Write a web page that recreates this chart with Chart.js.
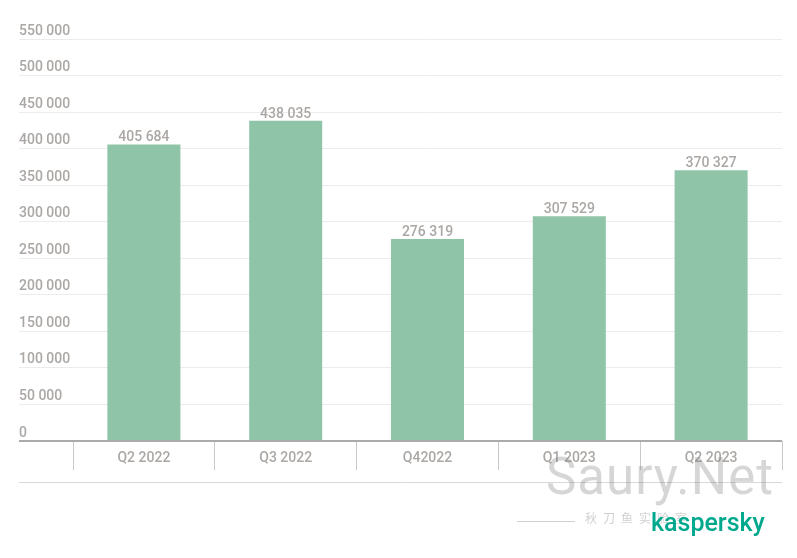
<!DOCTYPE html>
<html><head><meta charset="utf-8">
<script src="https://cdn.jsdelivr.net/npm/chart.js@4/dist/chart.umd.min.js"></script>
<style>
html,body{margin:0;padding:0;background:#fff;}
#wrap{position:relative;width:797px;height:558px;}
#wm{position:absolute;left:546px;top:451px;font-family:Roboto,sans-serif;font-size:51px;color:rgba(120,120,120,0.3);letter-spacing:1px;line-height:1;}
#wm2{position:absolute;left:585px;top:512px;font-family:"Noto Sans CJK SC",sans-serif;font-size:12px;color:rgba(120,120,120,0.35);letter-spacing:6px;line-height:1;}
#wmline{position:absolute;left:517px;top:521px;width:58px;height:1px;background:rgba(150,150,150,0.45);}
#logo{position:absolute;left:651px;top:510px;font-family:Roboto,sans-serif;font-size:25px;font-weight:500;color:#00a88e;line-height:1;}
</style></head>
<body><div id="wrap"><canvas id="c" width="797" height="558"></canvas>
<div id="wm">Saury.Net</div><div id="wmline"></div><div id="wm2">秋刀鱼实验室</div><div id="logo">kaspersky</div></div>
<script>
const categories = ["Q2 2022", "Q3 2022", "Q42022", "Q1 2023", "Q2 2023"];
const values = [405684, 438035, 276319, 307529, 370327];
const yTicks = [0, 50000, 100000, 150000, 200000, 250000, 300000, 350000, 400000, 450000, 500000, 550000];

const fmt = v => String(v).replace(/\B(?=(\d{3})+(?!\d))/g, " ");
const gray = "#aba7a4";
const font = {family: "Roboto", size: 14, weight: "500"};

const labelsPlugin = {
  id: "valueLabels",
  afterDatasetsDraw(chart) {
    const ctx = chart.ctx;
    const meta = chart.getDatasetMeta(0);
    ctx.save();
    ctx.font = "500 14px Roboto";
    ctx.fillStyle = gray;
    ctx.textAlign = "center";
    ctx.textBaseline = "alphabetic";
    meta.data.forEach((bar, i) => {
      ctx.fillText(fmt(values[i]), bar.x, bar.y - 3);
    });
    ctx.restore();
  },
  afterDraw(chart) {
    const ctx = chart.ctx;
    const xs = chart.scales.x, ys = chart.scales.y;
    ctx.save();
    ctx.strokeStyle = "#d9d9d9";
    ctx.lineWidth = 1;
    const y = Math.round(xs.top + 41) + 0.5;
    ctx.beginPath();
    ctx.moveTo(ys.left, y);
    ctx.lineTo(xs.right, y);
    ctx.stroke();
    ctx.restore();
  }
};

new Chart(document.getElementById("c"), {
  type: "bar",
  data: {
    labels: categories,
    datasets: [{
      data: values,
      backgroundColor: "#8fc4a8",
      borderWidth: 0,
      barPercentage: 0.515,
      categoryPercentage: 1
    }]
  },
  options: {
    responsive: false,
    animation: false,
    devicePixelRatio: 1,
    layout: {padding: {left: 19, right: 15, top: 39, bottom: 0}},
    plugins: {legend: {display: false}, tooltip: {enabled: false}},
    scales: {
      x: {
        offset: true,
        border: {display: false},
        grid: {offset: true, drawOnChartArea: false, drawTicks: true, tickLength: 29, color: "#c8c8c8", lineWidth: 1},
        ticks: {color: gray, font: font, padding: -20, maxRotation: 0},
        afterFit(scale) { scale.height = 117; }
      },
      y: {
        min: 0, max: 550000,
        border: {display: false},
        afterBuildTicks(scale) { scale.ticks = yTicks.map(v => ({value: v})); },
        grid: {
          drawTicks: true, tickLength: 54,
          color: c => (c.tick && c.tick.value === 0) ? "#aaaaaa" : "#ececec",
          lineWidth: c => (c.tick && c.tick.value === 0) ? 2 : 1
        },
        ticks: {
          color: gray, font: font, crossAlign: "far", padding: 0, labelOffset: -8,
          callback: v => fmt(v)
        },
        afterFit(scale) { scale.width = 54; }
      }
    }
  },
  plugins: [labelsPlugin]
});
</script></body></html>
